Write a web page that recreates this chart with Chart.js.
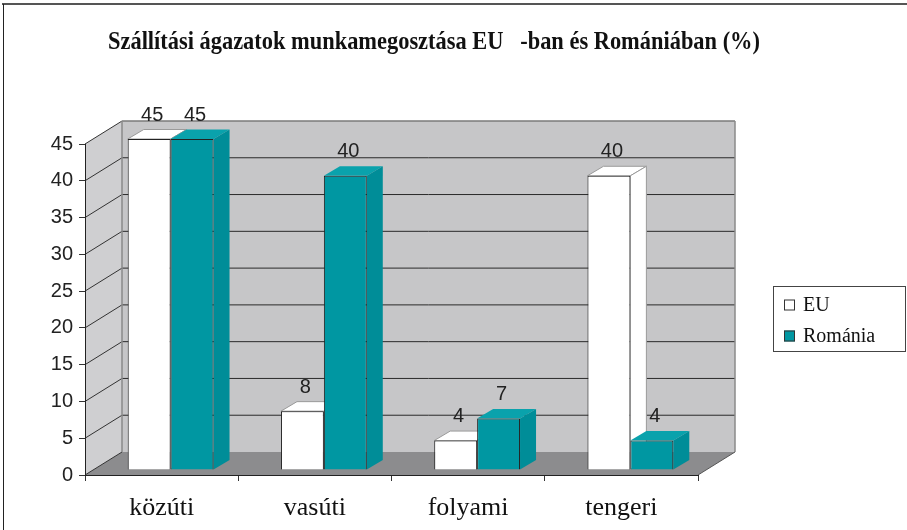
<!DOCTYPE html>
<html>
<head>
<meta charset="utf-8">
<script src="https://cdn.jsdelivr.net/npm/chart.js@4.4.1/dist/chart.umd.min.js"></script>
<style>
html, body { margin: 0; padding: 0; background: #fff; }
</style>
</head>
<body>
<canvas id="myChart" width="907" height="530"></canvas>
<script>
var chartTitle = 'Szállítási ágazatok munkamegosztása EU   -ban és Romániában (%)';
var categories = ['közúti', 'vasúti', 'folyami', 'tengeri'];
var euValues = [45, 8, 4, 40];
var romaniaValues = [45, 40, 7, 4];
var seriesNames = ['EU', 'Románia'];
var yMin = 0, yMax = 45, yStep = 5;

var teal = '#0097a2';
var tealTop = '#0aa2ac';
var tealSide = '#008d98';

// depth of the walls, depth of the bars, shift of the bars into the box
var WALL_DX = 37, WALL_DY = -23;
var BAR_DX = 16, BAR_DY = -9.5;
var SHIFT_X = 9, SHIFT_Y = -5;

function poly(ctx, pts, fill, stroke) {
    ctx.beginPath();
    ctx.moveTo(pts[0][0], pts[0][1]);
    for (var i = 1; i < pts.length; i++) ctx.lineTo(pts[i][0], pts[i][1]);
    ctx.closePath();
    if (fill) { ctx.fillStyle = fill; ctx.fill(); }
    if (stroke) { ctx.strokeStyle = stroke; ctx.lineWidth = 1; ctx.stroke(); }
}

function line(ctx, x1, y1, x2, y2, color, w) {
    ctx.beginPath();
    ctx.moveTo(x1, y1);
    ctx.lineTo(x2, y2);
    ctx.strokeStyle = color;
    ctx.lineWidth = w || 1;
    ctx.stroke();
}

var box3d = {
    id: 'box3d',
    beforeDraw: function (chart) {
        var ctx = chart.ctx;
        var a = chart.chartArea;
        var ys = chart.scales.y;
        var L = a.left, R = a.right;
        var y0 = ys.getPixelForValue(yMin), yT = ys.getPixelForValue(yMax);

        ctx.save();
        // page frame
        line(ctx, 2, 4, 907, 4, '#555', 2);
        line(ctx, 3.5, 4, 3.5, 530, '#222', 1);

        // back wall
        poly(ctx, [[L + WALL_DX, yT + WALL_DY], [R + WALL_DX, yT + WALL_DY], [R + WALL_DX, y0 + WALL_DY], [L + WALL_DX, y0 + WALL_DY]], '#c6c6c8');
        // side wall
        poly(ctx, [[L, y0], [L, yT], [L + WALL_DX, yT + WALL_DY], [L + WALL_DX, y0 + WALL_DY]], '#cfcfd1');
        // floor
        poly(ctx, [[L, y0], [R, y0], [R + WALL_DX, y0 + WALL_DY], [L + WALL_DX, y0 + WALL_DY]], '#8c8c8e');

        for (var v = yMin; v <= yMax; v += yStep) {
            var y = ys.getPixelForValue(v);
            line(ctx, L, y, L + WALL_DX, y + WALL_DY, '#333');
            if (v > yMin && v < yMax) {
                line(ctx, L + WALL_DX, y + WALL_DY, R + WALL_DX, y + WALL_DY, '#2a2a2a');
            }
        }
        line(ctx, L + WALL_DX, yT + WALL_DY, R + WALL_DX, yT + WALL_DY, '#7a7a7a', 1.5);
        line(ctx, R + WALL_DX, yT + WALL_DY, R + WALL_DX, y0 + WALL_DY, '#8a8a8a', 1.5);
        line(ctx, L + WALL_DX, yT + WALL_DY, L + WALL_DX, y0 + WALL_DY, '#8a8a8a', 1.5);
        line(ctx, R, y0, R + WALL_DX, y0 + WALL_DY, '#555');
        ctx.restore();
    },
    beforeDatasetsDraw: function (chart) {
        var ctx = chart.ctx;
        ctx.save();
        ctx.translate(SHIFT_X, SHIFT_Y);
        for (var i = 0; i < categories.length; i++) {
            for (var d = 0; d < chart.data.datasets.length; d++) {
                var bar = chart.getDatasetMeta(d).data[i];
                var p = bar.getProps(['x', 'y', 'base', 'width'], true);
                var l = p.x - p.width / 2, r = p.x + p.width / 2;
                var top = d === 0 ? '#ffffff' : tealTop;
                var side = d === 0 ? '#ffffff' : tealSide;
                var edge = d === 0 ? '#9a9a9a' : null;
                poly(ctx, [[l, p.y], [r, p.y], [r + BAR_DX, p.y + BAR_DY], [l + BAR_DX, p.y + BAR_DY]], top, edge);
                poly(ctx, [[r, p.y], [r + BAR_DX, p.y + BAR_DY], [r + BAR_DX, p.base + BAR_DY], [r, p.base]], side, edge);
            }
        }
    },
    afterDatasetsDraw: function (chart) {
        var ctx = chart.ctx;
        ctx.font = '20px "Liberation Sans", Arial, sans-serif';
        ctx.fillStyle = '#222';
        ctx.textAlign = 'center';
        ctx.textBaseline = 'middle';
        chart.data.datasets.forEach(function (ds, d) {
            chart.getDatasetMeta(d).data.forEach(function (bar, i) {
                ctx.fillText(String(ds.data[i]), bar.x + 3, bar.y - 24);
            });
        });
        ctx.restore();
    },
    afterDraw: function (chart) {
        var ctx = chart.ctx;
        ctx.save();
        // title
        ctx.fillStyle = '#111';
        ctx.textAlign = 'center';
        ctx.textBaseline = 'alphabetic';
        ctx.font = 'bold 25px "Liberation Serif", "Times New Roman", serif';
        ctx.fillText(chartTitle, 434, 49, 652);

        // legend
        ctx.strokeStyle = '#444';
        ctx.lineWidth = 1;
        ctx.strokeRect(773.5, 286.5, 132, 65);
        var colors = ['#ffffff', teal];
        var rows = [305, 336];
        ctx.textAlign = 'left';
        ctx.textBaseline = 'middle';
        ctx.font = '20px "Liberation Serif", "Times New Roman", serif';
        for (var k = 0; k < seriesNames.length; k++) {
            ctx.fillStyle = colors[k];
            ctx.fillRect(784, rows[k] - 5.5, 11, 11);
            ctx.strokeStyle = '#333';
            ctx.strokeRect(784.5, rows[k] - 5, 10, 10);
            ctx.fillStyle = '#111';
            ctx.fillText(seriesNames[k], 803, rows[k] + 1);
        }
        ctx.restore();
    }
};

var ctx = document.getElementById('myChart');

var data = {
    labels: categories,
    datasets: [
        {
            label: seriesNames[0],
            data: euValues,
            backgroundColor: '#ffffff',
            borderColor: '#222',
            borderWidth: 1,
            clip: false
        },
        {
            label: seriesNames[1],
            data: romaniaValues,
            backgroundColor: teal,
            borderColor: '#222',
            borderWidth: 1,
            clip: false
        }
    ]
};

var chart = new Chart(ctx, {
    type: 'bar',
    data: data,
    plugins: [box3d],
    options: {
        responsive: false,
        animation: false,
        categoryPercentage: 0.56,
        barPercentage: 1.0,
        layout: { padding: { left: 0, right: 209, top: 144, bottom: 0 } },
        plugins: {
            legend: { display: false },
            title: { display: false },
            tooltip: { enabled: false }
        },
        scales: {
            x: {
                afterFit: function (s) { s.height = 55; },
                grid: { drawOnChartArea: false, drawTicks: true, tickLength: 6, color: '#333' },
                border: { display: true, color: '#222' },
                ticks: {
                    color: '#111',
                    padding: 12,
                    font: { family: '"Liberation Serif", "Times New Roman", serif', size: 26 }
                }
            },
            y: {
                min: yMin,
                max: yMax,
                afterFit: function (s) { s.width = 85; },
                grid: { drawOnChartArea: false, drawTicks: true, tickLength: 6, color: '#333' },
                border: { display: true, color: '#222' },
                ticks: {
                    stepSize: yStep,
                    color: '#222',
                    padding: 6,
                    font: { family: '"Liberation Sans", Arial, sans-serif', size: 20 }
                }
            }
        }
    }
});
</script>
</body>
</html>
